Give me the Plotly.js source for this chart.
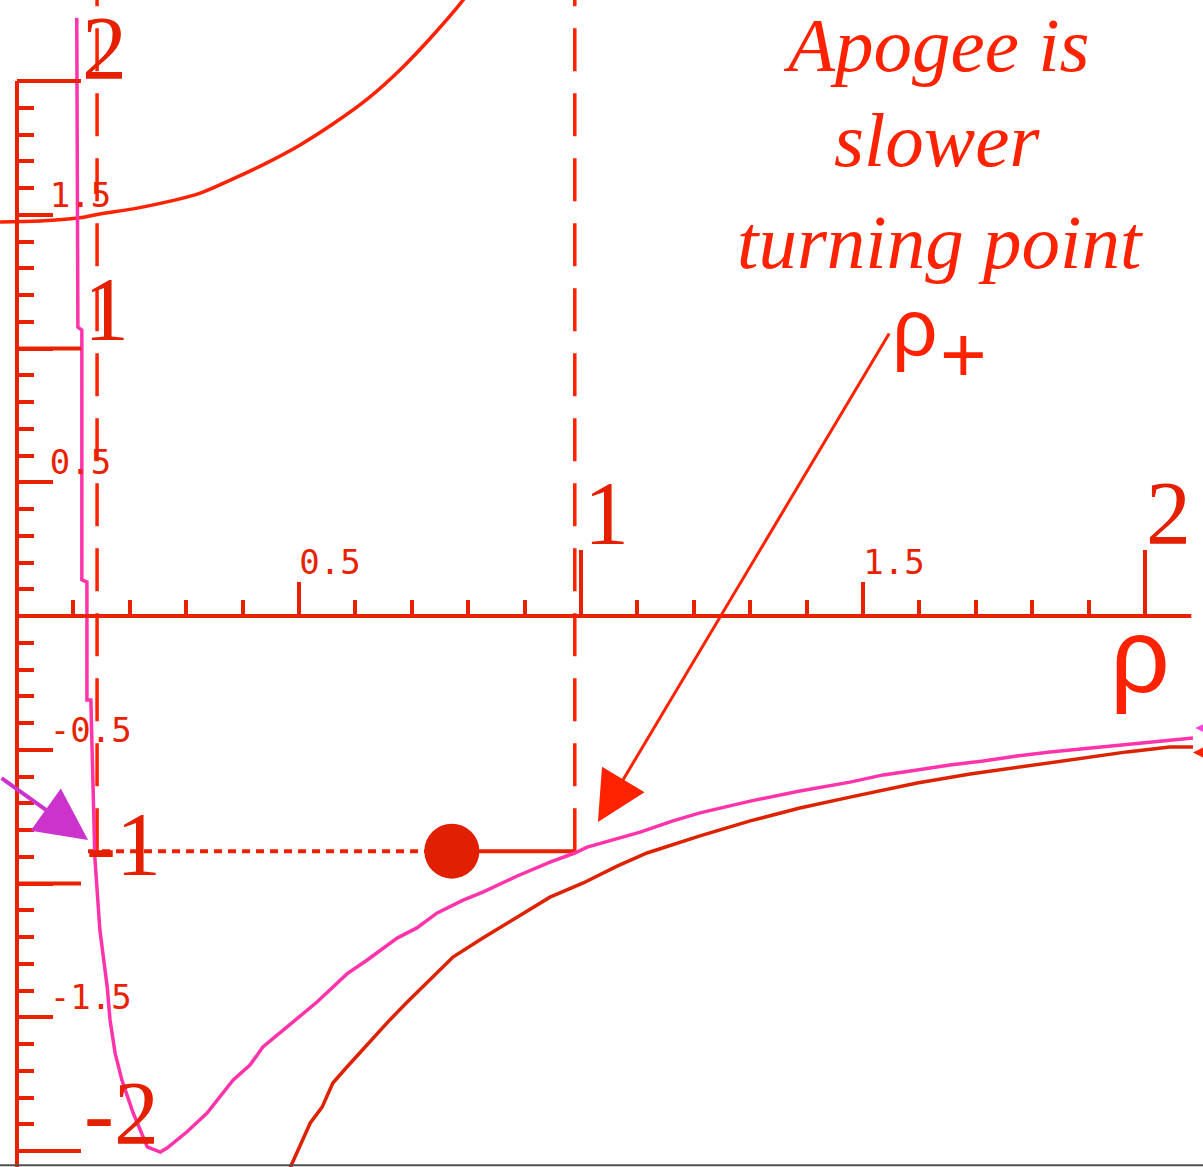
<!DOCTYPE html>
<html>
<head>
<meta charset="utf-8">
<script src="https://cdn.plot.ly/plotly-3.0.1.min.js"></script>
<style>
  html, body { margin: 0; padding: 0; background: #ffffff; }
  #plot { width: 1203px; height: 1167px; }
</style>
</head>
<body>
<div id="plot"></div>
<script>
// Effective potential of a Kepler orbit: V_eff(rho) with the centrifugal term,
// the bare -1/rho potential, and the orbit energy level between the turning points.

// effective potential (magenta curve)
const RHO_EFF = [0.106, 0.108, 0.115, 0.115, 0.124, 0.124, 0.131, 0.135, 0.138, 0.147,
  0.160, 0.165, 0.174, 0.186, 0.206, 0.231, 0.254, 0.266, 0.301, 0.337, 0.383, 0.413,
  0.436, 0.472, 0.532, 0.585, 0.621, 0.674, 0.709, 0.745, 0.791, 0.826, 0.887, 0.945,
  0.989, 1.011, 1.057, 1.105, 1.163, 1.211, 1.300, 1.388, 1.477, 1.536, 1.596, 1.654,
  1.713, 1.773, 1.832, 1.915, 1.986, 2.053, 2.085];
const V_EFF = [2.236, 1.080, 1.069, 0.135, 0.127, -0.314, -0.314, -0.688, -0.901, -1.174,
  -1.387, -1.510, -1.634, -1.735, -1.858, -1.985, -2.004, -1.989, -1.929, -1.858, -1.735, -1.679,
  -1.611, -1.548, -1.443, -1.338, -1.286, -1.204, -1.166, -1.110, -1.062, -1.032, -0.972, -0.920,
  -0.886, -0.864, -0.837, -0.808, -0.766, -0.736, -0.692, -0.654, -0.621, -0.594, -0.576, -0.557,
  -0.542, -0.523, -0.508, -0.490, -0.475, -0.460, -0.456];

// Newtonian potential -1/rho (dark red curve)
const RHO_KEPLER = [0.484, 0.502, 0.520, 0.541, 0.560, 0.585, 0.617, 0.661, 0.692, 0.736,
  0.773, 0.826, 0.887, 0.945, 1.004, 1.064, 1.117, 1.211, 1.300, 1.388, 1.477, 1.596,
  1.690, 1.791, 1.903, 1.968, 2.044, 2.085];
const V_KEPLER = [-2.064, -1.978, -1.895, -1.836, -1.746, -1.686, -1.611, -1.510, -1.443, -1.353,
  -1.275, -1.204, -1.125, -1.051, -0.998, -0.935, -0.886, -0.822, -0.766, -0.718, -0.677, -0.624,
  -0.591, -0.561, -0.527, -0.508, -0.490, -0.490];

// circular arc in the upper left
const ARC_X = [-0.030, 0.041, 0.108, 0.147, 0.206, 0.266, 0.325, 0.383, 0.443, 0.502,
  0.560, 0.621, 0.679, 0.738, 0.791, 0.803];
const ARC_Y = [1.473, 1.477, 1.488, 1.503, 1.522, 1.548, 1.581, 1.634, 1.694, 1.761,
  1.839, 1.932, 2.041, 2.172, 2.303, 2.340];

// orbit energy and turning points
const ENERGY = -0.879;
const RHO_MINUS = 0.142;
const RHO_PLUS = 0.989;
const BALL_RHO = 0.771;
const ENERGY_LINE_START = 0.126;

// axis ticks
const X_MAJOR = [0.5, 1, 1.5, 2];
const X_LABELS = ['0.5', '', '1.5', ''];
const Y_MAJOR = [-2, -1.5, -1, -0.5, 0.5, 1, 1.5, 2];
const Y_LABELS = ['', '-1.5', '', '-0.5', '0.5', '', '1.5', ''];
const X_INTEGER = [1, 2];
const Y_INTEGER = [-2, -1, 1, 2];
const X_AXIS_END = 2.082;
const Y_AXIS_TOP = 2;

// big labels on the axes
const BIG_X_LABELS = [{t: '1', x: 1.046, y: 0.383}, {t: '2', x: 2.041, y: 0.383}];
const BIG_Y_LABELS = [{t: '2', x: 0.156, y: 2.122}, {t: '1', x: 0.158, y: 1.144},
                      {t: '-1', x: 0.188, y: -0.856}, {t: '-2', x: 0.185, y: -1.858}];

const X_RANGE = [-0.0301, 2.1028];
const Y_RANGE = [-2.0598, 2.3028];
const W = 1203, H = 1167;
const PX_X = (X_RANGE[1] - X_RANGE[0]) / W;   // data units per pixel
const PX_Y = (Y_RANGE[1] - Y_RANGE[0]) / H;

const C_AXIS = '#e82200';
const C_TEXT = '#ff2200';
const C_PINK = '#ff33aa';
const C_DARK = '#dd2200';
const C_PURPLE = '#cc33cc';

function minorTicks(lo, hi) {
  const out = [];
  for (let i = Math.round(lo * 10); i <= Math.round(hi * 10); i++) {
    if (i % 5 !== 0) out.push(i / 10);
  }
  return out;
}

const traces = [
  {x: ARC_X, y: ARC_Y, mode: 'lines', line: {color: C_TEXT, width: 3.5, shape: 'spline'}},
  {x: [RHO_MINUS, RHO_MINUS], y: [ENERGY, Y_RANGE[1]], mode: 'lines',
   line: {color: C_TEXT, width: 3.5, dash: '43px,22px'}},
  {x: [RHO_PLUS, RHO_PLUS], y: [ENERGY, Y_RANGE[1]], mode: 'lines',
   line: {color: C_TEXT, width: 3.5, dash: '43px,22px'}},
  {x: [ENERGY_LINE_START, BALL_RHO], y: [ENERGY, ENERGY], mode: 'lines',
   line: {color: C_AXIS, width: 4, dash: '8px,6px'}},
  {x: [BALL_RHO, RHO_PLUS], y: [ENERGY, ENERGY], mode: 'lines',
   line: {color: C_AXIS, width: 4}},
  {x: RHO_KEPLER, y: V_KEPLER, mode: 'lines', line: {color: C_DARK, width: 3.5}},
  {x: RHO_EFF, y: V_EFF, mode: 'lines', line: {color: C_PINK, width: 3.5}},
  {x: [BALL_RHO], y: [ENERGY], mode: 'markers',
   marker: {size: 55, color: '#e02000', line: {width: 0}}}
];

const shapes = [
  {type: 'line', xref: 'x', yref: 'y', x0: 0, x1: X_AXIS_END, y0: 0, y1: 0,
   line: {color: C_AXIS, width: 4}},
  {type: 'line', xref: 'x', yref: 'y', x0: 0, x1: 0, y0: Y_AXIS_TOP, y1: Y_RANGE[0],
   line: {color: C_AXIS, width: 4}},
  {type: 'line', xref: 'paper', yref: 'paper', x0: 0, x1: 1, y0: 0.0015, y1: 0.0015,
   line: {color: '#505050', width: 2}}
];
X_INTEGER.forEach(v => shapes.push({type: 'line', xref: 'x', yref: 'y',
  x0: v, x1: v, y0: 0, y1: 66 * PX_Y, line: {color: C_AXIS, width: 4}}));
Y_INTEGER.forEach(v => shapes.push({type: 'line', xref: 'x', yref: 'y',
  x0: 0, x1: 64 * PX_X, y0: v, y1: v, line: {color: C_AXIS, width: 4}}));

const serif = {family: 'Liberation Serif, Times New Roman, serif', size: 90, color: '#e42000'};
const annotations = [];
BIG_X_LABELS.concat(BIG_Y_LABELS).forEach(l => annotations.push({
  x: l.x, y: l.y, xref: 'x', yref: 'y', text: l.t, showarrow: false,
  xanchor: 'center', yanchor: 'middle', font: serif}));

const italic = {family: 'Liberation Serif, Times New Roman, serif', size: 77,
                color: C_TEXT, style: 'italic'};
[['Apogee is', 1.631, 2.135], ['slower', 1.631, 1.778], ['turning point', 1.637, 1.400]]
  .forEach(r => annotations.push({x: r[1], y: r[2], xref: 'x', yref: 'y', text: r[0],
    showarrow: false, xanchor: 'center', yanchor: 'middle', font: italic}));

const sans = {family: 'Liberation Sans, Arial, sans-serif', color: C_TEXT};
annotations.push(
  {x: 1.592, y: 1.077, xref: 'x', yref: 'y', text: 'ρ', showarrow: false,
   xanchor: 'center', yanchor: 'middle', font: Object.assign({size: 80}, sans)},
  {x: 1.679, y: 0.976, xref: 'x', yref: 'y', text: '+', showarrow: false,
   xanchor: 'center', yanchor: 'middle', font: Object.assign({size: 80}, sans)},
  {x: 1.991, y: -0.146, xref: 'x', yref: 'y', text: 'ρ', showarrow: false,
   xanchor: 'center', yanchor: 'middle', font: Object.assign({size: 105}, sans)},
  // arrow to the apogee turning point
  {x: 1.030, y: -0.770, ax: 1.548, ay: 1.062, xref: 'x', yref: 'y', axref: 'x', ayref: 'y',
   text: '', showarrow: true, arrowhead: 2, arrowsize: 3.3, arrowwidth: 3,
   arrowcolor: C_TEXT, standoff: 0, startstandoff: 0},
  // arrow to the perigee turning point
  {x: 0.126, y: -0.837, ax: -0.030, ay: -0.602, xref: 'x', yref: 'y', axref: 'x', ayref: 'y',
   text: '', showarrow: true, arrowhead: 2, arrowsize: 2.6, arrowwidth: 4,
   arrowcolor: C_PURPLE, standoff: 0, startstandoff: 0},
  // arrows entering from the right edge
  {x: 2.089, y: -0.419, ax: 2.28, ay: -0.419, xref: 'x', yref: 'y', axref: 'x', ayref: 'y',
   text: '', showarrow: true, arrowhead: 2, arrowsize: 3, arrowwidth: 2,
   arrowcolor: '#ff44dd', standoff: 0},
  {x: 2.085, y: -0.510, ax: 2.28, ay: -0.510, xref: 'x', yref: 'y', axref: 'x', ayref: 'y',
   text: '', showarrow: true, arrowhead: 2, arrowsize: 4, arrowwidth: 2,
   arrowcolor: C_TEXT, standoff: 0}
);

const mono = {family: 'DejaVu Sans Mono, monospace', size: 34, color: C_AXIS};
const layout = {
  width: W, height: H,
  margin: {l: 0, r: 0, t: 0, b: 0, pad: 0},
  paper_bgcolor: '#ffffff', plot_bgcolor: '#ffffff',
  showlegend: false,
  xaxis: {
    range: X_RANGE, anchor: 'free',
    position: (0 - Y_RANGE[0]) / (Y_RANGE[1] - Y_RANGE[0]),
    side: 'top', showline: false, showgrid: false, zeroline: false,
    ticks: 'outside', ticklen: 34, tickwidth: 4, tickcolor: C_AXIS,
    tickmode: 'array', tickvals: X_MAJOR, ticktext: X_LABELS, tickfont: mono,
    ticklabelshift: 31, ticklabelstandoff: -6,
    minor: {tickmode: 'array', tickvals: minorTicks(0.1, 2.0), ticks: 'outside',
            ticklen: 16, tickwidth: 4, tickcolor: C_AXIS, showgrid: false},
    fixedrange: true
  },
  yaxis: {
    range: Y_RANGE, anchor: 'free',
    position: (0 - X_RANGE[0]) / (X_RANGE[1] - X_RANGE[0]),
    side: 'right', showline: false, showgrid: false, zeroline: false,
    ticks: 'outside', ticklen: 35, tickwidth: 4, tickcolor: C_AXIS,
    tickmode: 'array', tickvals: Y_MAJOR, ticktext: Y_LABELS, tickfont: mono,
    ticklabelshift: -20, ticklabelstandoff: -10,
    minor: {tickmode: 'array', tickvals: minorTicks(-2.0, 2.0), ticks: 'outside',
            ticklen: 16, tickwidth: 4, tickcolor: C_AXIS, showgrid: false},
    fixedrange: true
  },
  shapes: shapes,
  annotations: annotations
};

Plotly.newPlot('plot', traces, layout, {staticPlot: true, displayModeBar: false});
</script>
</body>
</html>
